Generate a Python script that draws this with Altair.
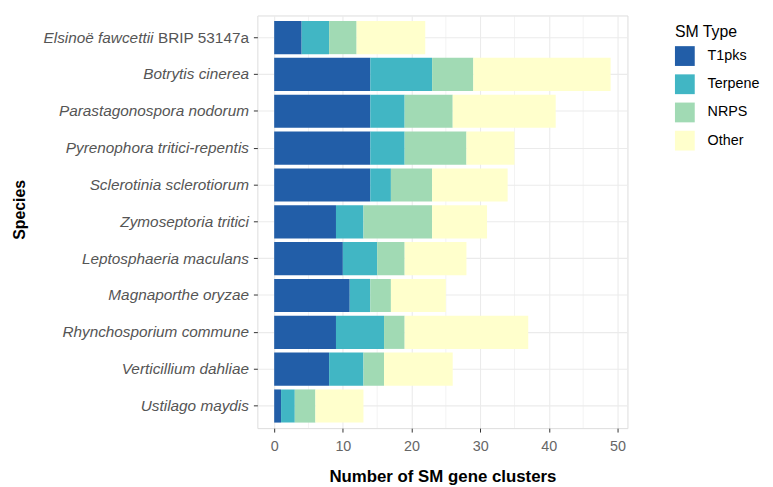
import altair as alt
import pandas as pd

species = [
    "Elsinoë fawcettii BRIP 53147a",
    "Botrytis cinerea",
    "Parastagonospora nodorum",
    "Pyrenophora tritici-repentis",
    "Sclerotinia sclerotiorum",
    "Zymoseptoria tritici",
    "Leptosphaeria maculans",
    "Magnaporthe oryzae",
    "Rhynchosporium commune",
    "Verticillium dahliae",
    "Ustilago maydis",
]
types = ["T1pks", "Terpene", "NRPS", "Other"]
t1pks = [4, 14, 14, 14, 14, 9, 10, 11, 9, 8, 1]
terpene = [4, 9, 5, 5, 3, 4, 5, 3, 7, 5, 2]
nrps = [4, 6, 7, 9, 6, 10, 4, 3, 3, 3, 3]
other = [10, 20, 15, 7, 11, 8, 9, 8, 18, 10, 7]
colors = ["#225ea8", "#41b6c4", "#a1dab4", "#ffffcc"]
x_ticks = [0, 10, 20, 30, 40, 50]
x_minor = [5, 15, 25, 35, 45]

rows = []
for i, sp in enumerate(species):
    for j, (t, vals) in enumerate(zip(types, [t1pks, terpene, nrps, other])):
        rows.append({"Species": sp, "SM Type": t, "count": vals[i], "ord": j})
df = pd.DataFrame(rows)

FONT = "Liberation Sans"
xscale = alt.Scale(domain=[-2.45, 51.45], nice=False, zero=False)
yscale = alt.Scale(domain=species, paddingInner=0.1, paddingOuter=0.15)

xaxis = alt.Axis(
    values=x_ticks,
    grid=True,
    gridColor="#ebebeb",
    gridWidth=1.1,
    domain=False,
    tickColor="#333333",
    tickSize=4,
    labelFont=FONT,
    labelFontSize=14.5,
    labelColor="#666666",
    labelPadding=8,
    titleFont=FONT,
    titleFontSize=17,
    titleFontWeight="bold",
    titleColor="#000000",
    titlePadding=15,
)
XTITLE = "Number of SM gene clusters"

minor = alt.Chart(pd.DataFrame({"v": x_minor})).mark_rule(
    color="#ebebeb", strokeWidth=0.6
).encode(x=alt.X("v:Q", scale=xscale, axis=xaxis, title=XTITLE))

bars = alt.Chart(df).mark_bar().encode(
    x=alt.X(
        "sum(count):Q",
        scale=xscale,
        stack="zero",
        title=XTITLE,
        axis=xaxis,
    ),
    y=alt.Y(
        "Species:N",
        scale=yscale,
        sort=species,
        title="Species",
        axis=alt.Axis(
            grid=True,
            gridColor="#ebebeb",
            gridWidth=1.1,
            bandPosition=0.5,
            domain=False,
            tickColor="#333333",
            tickSize=4,
            labelFont=FONT,
            labelFontSize=15.5,
            labelLimit=400,
            labelFontStyle=alt.ExprRef(
                "datum.value === 'Elsinoë fawcettii BRIP 53147a' ? 'normal' : 'italic'"
            ),
            labelExpr="datum.value === 'Elsinoë fawcettii BRIP 53147a' ? 'BRIP 53147a' : datum.value",
            labelColor="#555555",
            labelPadding=5,
            titleFont=FONT,
            titleFontSize=16,
            titleFontWeight="bold",
            titleColor="#000000",
            titlePadding=32,
            titleY=196,
        ),
    ),
    color=alt.Color(
        "SM Type:N",
        scale=alt.Scale(domain=types, range=colors),
        legend=alt.Legend(
            title="SM Type",
            orient="none",
            legendX=422,
            legendY=9,
            symbolType="square",
            symbolSize=400,
            symbolStrokeWidth=0,
            symbolOpacity=1,
            rowPadding=8.5,
            labelOffset=13,
            labelFont=FONT,
            labelFontSize=14.5,
            labelColor="#000000",
            titleFont=FONT,
            titleFontSize=16,
            titleFontWeight="normal",
            titleColor="#000000",
            titlePadding=6,
        ),
    ),
    order=alt.Order("ord:Q", sort="ascending"),
)

elsinoe = alt.Chart(pd.DataFrame({"Species": [species[0]], "t": ["Elsinoë fawcettii"]})).mark_text(
    align="right", baseline="middle", font=FONT, fontSize=15.5, fontStyle="italic", color="#555555"
).encode(
    y=alt.Y("Species:N", scale=yscale, sort=species),
    x=alt.value(-105),
    text="t:N",
)

chart = (
    alt.layer(minor, bars, elsinoe)
    .properties(width=374, height=417, padding={"left": 4, "top": 4, "right": 5, "bottom": 5})
    .configure_view(stroke="#a0a0a0", strokeWidth=1)
    .configure(background="white")
)

chart.save("out.html", embed_options={"renderer": "svg", "actions": False})
